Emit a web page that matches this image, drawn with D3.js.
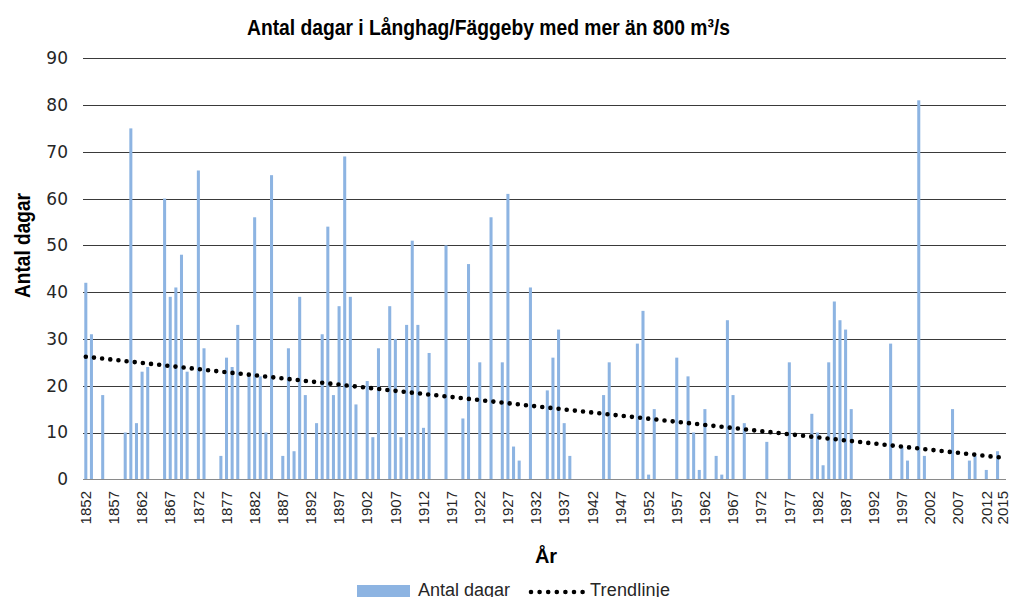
<!DOCTYPE html>
<html>
<head>
<meta charset="utf-8">
<script src="https://cdnjs.cloudflare.com/ajax/libs/d3/7.8.5/d3.min.js"></script>
<style>
  body { margin: 0; background: #fff; }
  svg { display: block; }
</style>
</head>
<body>
<div id="chart"></div>
<script>
// years that had at least one day above 800 m3/s, and the number of days
var years = [1852, 1853, 1855, 1859, 1860, 1861, 1862, 1863, 1866, 1867, 1868, 1869, 1870,
    1872, 1873, 1876, 1877, 1878, 1879, 1881, 1882, 1883, 1884, 1885, 1887, 1888, 1889,
    1890, 1891, 1893, 1894, 1895, 1896, 1897, 1898, 1899, 1900, 1902, 1903, 1904, 1906,
    1907, 1908, 1909, 1910, 1911, 1912, 1913, 1916, 1919, 1920, 1922, 1924, 1926, 1927,
    1928, 1929, 1931, 1934, 1935, 1936, 1937, 1938, 1944, 1945, 1950, 1951, 1952, 1953,
    1957, 1959, 1960, 1961, 1962, 1964, 1965, 1966, 1967, 1969, 1973, 1977, 1981, 1982,
    1983, 1984, 1985, 1986, 1987, 1988, 1995, 1997, 1998, 2000, 2001, 2006, 2009, 2010,
    2012, 2014];
var days = [42, 31, 18, 10, 75, 12, 23, 24, 60, 39, 41, 48, 23,
    66, 28, 5, 26, 24, 33, 22, 56, 22, 10, 65, 5, 28, 6,
    39, 18, 12, 31, 54, 18, 37, 69, 39, 16, 21, 9, 28, 37,
    30, 9, 33, 51, 33, 11, 27, 50, 13, 46, 25, 56, 25, 61,
    7, 4, 41, 19, 26, 32, 12, 5, 18, 25, 29, 36, 1, 15,
    26, 22, 10, 2, 15, 5, 1, 34, 18, 12, 8, 25, 14, 10,
    3, 25, 38, 34, 32, 15, 29, 7, 4, 81, 5, 15, 4, 5,
    2, 6];

// linear trend, read at the two ends of the axis
var trendYears = [1852, 2015];
var trendValues = [26.2, 4.6];

var firstYear = 1852, lastYear = 2015;
var xTickYears = [1852, 1857, 1862, 1867, 1872, 1877, 1882, 1887, 1892, 1897, 1902, 1907,
    1912, 1917, 1922, 1927, 1932, 1937, 1942, 1947, 1952, 1957, 1962, 1967, 1972, 1977,
    1982, 1987, 1992, 1997, 2002, 2007, 2012, 2015];
var yTicks = [0, 10, 20, 30, 40, 50, 60, 70, 80, 90];

var width = 1009, height = 597;
var plotLeft = 83, plotRight = 1006, plotTop = 58.2, plotBottom = 479.3;
var textColor = "#262626";

var svg = d3.select("#chart").append("svg")
    .attr("width", width)
    .attr("height", height);

var allYears = d3.range(firstYear, lastYear + 1);
var x = d3.scaleBand()
    .domain(allYears)
    .range([plotLeft, plotRight])
    .paddingInner(0.46)
    .paddingOuter(0.23);
var y = d3.scaleLinear()
    .domain([0, 90])
    .range([plotBottom, plotTop]);

// grid lines
svg.append("g")
    .selectAll("line")
    .data(yTicks.filter(function(d){ return d > 0; }))
    .enter().append("line")
    .attr("x1", plotLeft)
    .attr("x2", plotRight)
    .attr("y1", function(d){ return Math.round(y(d)) + 0.5; })
    .attr("y2", function(d){ return Math.round(y(d)) + 0.5; })
    .style("stroke", "#3a3a3a")
    .style("stroke-width", 1);

// y axis labels
var yAxis = d3.axisLeft(y).tickValues(yTicks).tickSize(0).tickPadding(0);
var gy = svg.append("g")
    .attr("transform", "translate(68,0)")
    .call(yAxis);
gy.select(".domain").remove();
gy.selectAll("text")
    .attr("font-family", "'DejaVu Sans', sans-serif")
    .attr("font-size", "17px")
    .attr("fill", textColor);

// bars
svg.append("g")
    .selectAll("rect")
    .data(years)
    .enter().append("rect")
    .attr("x", function(d){ return x(d); })
    .attr("width", x.bandwidth())
    .attr("y", function(d, i){ return y(days[i]); })
    .attr("height", function(d, i){ return plotBottom - y(days[i]); })
    .style("fill", "#8db4e2");

// x axis line
svg.append("line")
    .attr("x1", plotLeft).attr("x2", plotRight)
    .attr("y1", Math.round(plotBottom) + 0.5).attr("y2", Math.round(plotBottom) + 0.5)
    .style("stroke", "#8a8a8a")
    .style("stroke-width", 1);

// x labels, rotated
var xAxis = d3.axisBottom(x).tickValues(xTickYears).tickSize(0).tickPadding(0);
var gx = svg.append("g")
    .attr("transform", "translate(0," + 491 + ")")
    .call(xAxis);
gx.select(".domain").remove();
gx.selectAll("text")
    .attr("font-family", "'Liberation Sans', Arial, sans-serif")
    .attr("font-size", "15px")
    .attr("fill", textColor)
    .attr("text-anchor", "end")
    .attr("dy", "0.35em")
    .attr("y", 0)
    .attr("transform", "rotate(-90)");

// trend line
var trendLine = d3.line()
    .x(function(d){ return x(d) + x.bandwidth() / 2; })
    .y(function(d, i){ return y(trendValues[i]); });
svg.append("path")
    .datum(trendYears)
    .attr("d", trendLine)
    .style("fill", "none")
    .style("stroke", "#000")
    .style("stroke-width", 4.6)
    .style("stroke-linecap", "round")
    .style("stroke-dasharray", "0 8.2");

// titles
svg.append("text")
    .attr("x", 247)
    .attr("y", 35)
    .attr("font-family", "'Liberation Sans', Arial, sans-serif")
    .attr("font-weight", "bold")
    .attr("font-size", "22px")
    .attr("textLength", 483)
    .attr("lengthAdjust", "spacingAndGlyphs")
    .attr("fill", "#000")
    .text("Antal dagar i Långhag/Fäggeby med mer än 800 m³/s");

svg.append("text")
    .attr("transform", "translate(30,298) rotate(-90)")
    .attr("font-family", "'Liberation Sans', Arial, sans-serif")
    .attr("font-weight", "bold")
    .attr("font-size", "22px")
    .attr("textLength", 105)
    .attr("lengthAdjust", "spacingAndGlyphs")
    .attr("fill", "#000")
    .text("Antal dagar");

svg.append("text")
    .attr("x", 546)
    .attr("y", 563)
    .attr("text-anchor", "middle")
    .attr("font-family", "'Liberation Sans', Arial, sans-serif")
    .attr("font-weight", "bold")
    .attr("font-size", "20px")
    .attr("fill", "#000")
    .text("År");

// legend
var legend = svg.append("g");
legend.append("rect")
    .attr("x", 357).attr("y", 585)
    .attr("width", 53).attr("height", 12)
    .style("fill", "#8db4e2");
legend.append("text")
    .attr("x", 418).attr("y", 596)
    .attr("font-family", "'Liberation Sans', Arial, sans-serif")
    .attr("font-size", "18px")
    .attr("fill", textColor)
    .text("Antal dagar");
legend.append("line")
    .attr("x1", 531).attr("x2", 583)
    .attr("y1", 592).attr("y2", 592)
    .style("stroke", "#000")
    .style("stroke-width", 4.6)
    .style("stroke-linecap", "round")
    .style("stroke-dasharray", "0 8.6");
legend.append("text")
    .attr("x", 590).attr("y", 596)
    .attr("font-family", "'Liberation Sans', Arial, sans-serif")
    .attr("font-size", "18px")
    .attr("textLength", 80)
    .attr("fill", textColor)
    .text("Trendlinje");
</script>
</body>
</html>
